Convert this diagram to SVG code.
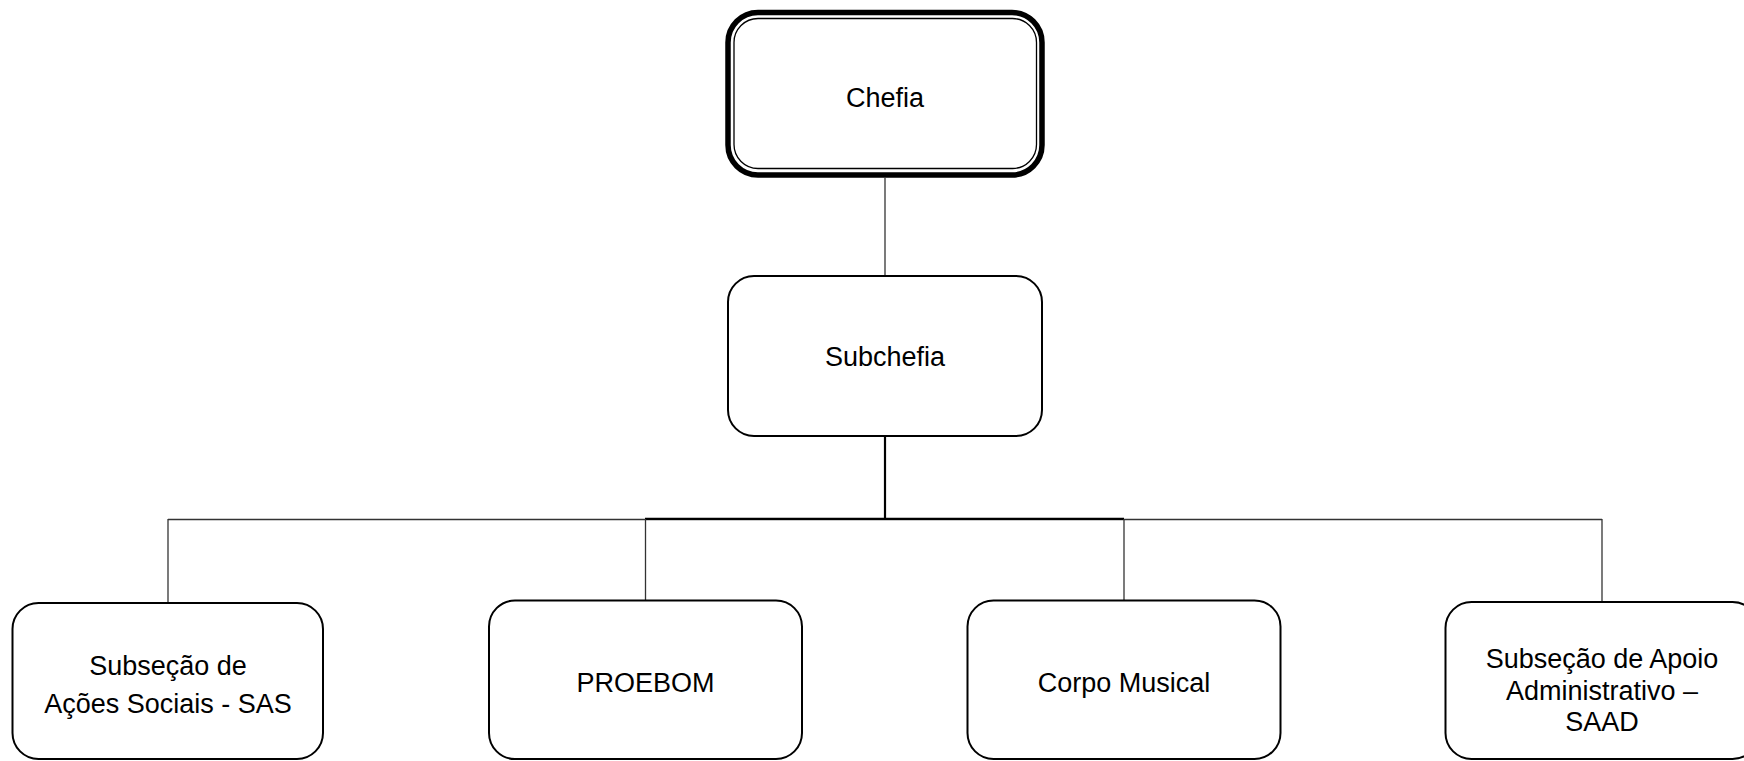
<svg xmlns="http://www.w3.org/2000/svg" width="1744" height="761" viewBox="0 0 1744 761">
<style>
.box{fill:#fff;stroke:#000;stroke-width:2}
.lbl{font-family:"Liberation Sans",Arial,sans-serif;font-size:27px;fill:#000;text-anchor:middle}
.thin{stroke:#333;stroke-width:1.3;fill:none}
.thick{stroke:#000;stroke-width:2.2;fill:none}
</style>
<rect width="1744" height="761" fill="#fff"/>
<g id="connectors">
<line class="thin" x1="885" y1="178" x2="885" y2="276" stroke="#555"/>
<line class="thick" x1="885" y1="436" x2="885" y2="519"/>
<line class="thin" x1="168" y1="519.5" x2="1602" y2="519.5"/>
<line class="thick" x1="645" y1="518.8" x2="1124" y2="518.8"/>
<line class="thin" x1="168" y1="519" x2="168" y2="602"/>
<line class="thin" x1="645.5" y1="519" x2="645.5" y2="601"/>
<line class="thin" x1="1124" y1="519" x2="1124" y2="601"/>
<line class="thin" x1="1602" y1="519" x2="1602" y2="602"/>
</g>
<g id="chefia">
<rect x="728" y="12.5" width="314" height="162.5" rx="30" fill="#fff" stroke="#000" stroke-width="5.5"/>
<rect x="734" y="18.5" width="302.5" height="150" rx="24" fill="none" stroke="#000" stroke-width="1.3"/>
<text class="lbl" x="885" y="107">Chefia</text>
</g>
<g id="subchefia">
<rect class="box" x="728" y="276" width="314" height="160" rx="26"/>
<text class="lbl" x="885" y="366">Subchefia</text>
</g>
<g id="sas">
<rect class="box" x="12.5" y="603" width="310.5" height="156" rx="26"/>
<text class="lbl" x="168" y="675">Subseção de</text>
<text class="lbl" x="168" y="713">Ações Sociais - SAS</text>
</g>
<g id="proebom">
<rect class="box" x="489" y="600.5" width="313" height="158.5" rx="26"/>
<text class="lbl" x="645.5" y="692">PROEBOM</text>
</g>
<g id="corpo-musical">
<rect class="box" x="967.5" y="600.5" width="313" height="158.5" rx="26"/>
<text class="lbl" x="1124" y="692">Corpo Musical</text>
</g>
<g id="saad">
<rect class="box" x="1445.5" y="602" width="313" height="157" rx="26"/>
<text class="lbl" x="1602" y="668">Subseção de Apoio</text>
<text class="lbl" x="1602" y="699.5">Administrativo –</text>
<text class="lbl" x="1602" y="731">SAAD</text>
</g>
</svg>
